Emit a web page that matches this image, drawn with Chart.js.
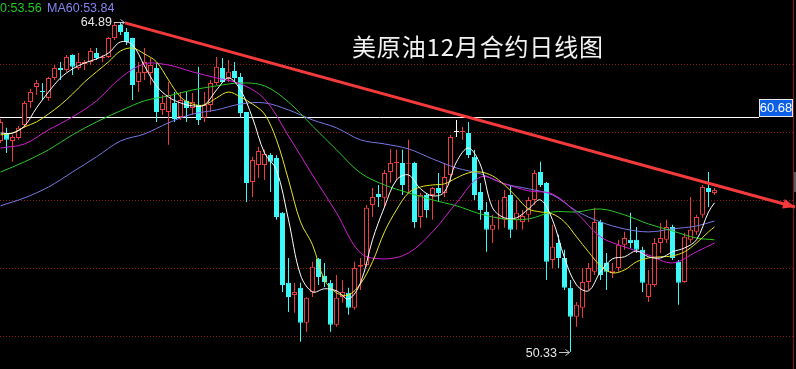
<!DOCTYPE html>
<html><head><meta charset="utf-8">
<script src="https://cdn.jsdelivr.net/npm/chart.js@4.4.0/dist/chart.umd.min.js"></script>
<style>html,body{margin:0;padding:0;background:#000;overflow:hidden}#wrap{width:796px;height:369px;position:relative}</style>
</head><body><div id="wrap"><canvas id="c" width="796" height="369"></canvas></div>
<script>
// ---- data ----
const opens=[59.64,59.99,59.64,59.77,60.35,61.36,62.02,61.85,61.54,62.42,62.86,62.77,63.43,62.86,63.04,63.13,63.52,63.30,63.35,64.18,
64.76,64.45,64.18,62.24,62.64,62.64,62.86,61.01,60.92,61.32,60.70,61.41,61.10,61.23,60.66,61.23,62.20,62.86,62.42,62.73,
62.46,60.92,57.83,58.58,58.58,59.02,58.89,56.47,53.38,52.85,53.16,51.62,52.98,54.44,53.69,53.38,51.53,52.76,52.94,52.28,
54.09,54.17,56.82,57.30,57.13,58.27,58.67,58.67,58.63,58.67,56.29,57.26,57.26,57.57,57.35,58.14,60.04,60.04,59.99,58.94,
57.39,56.51,55.72,56.25,56.16,57.26,56.16,56.07,56.38,57.04,58.27,57.79,54.39,55.14,54.48,53.16,51.88,52.28,53.42,53.87,
56.07,54.26,53.82,54.04,55.06,55.28,55.28,54.84,52.76,53.29,55.14,55.28,55.85,54.31,53.42,55.28,55.63,56.38,57.57,57.35];
const highs=[60.61,60.22,59.91,60.30,61.41,61.94,62.33,62.20,62.46,62.99,63.13,63.43,63.47,63.52,63.21,63.74,63.74,63.43,64.23,64.85,
64.89,64.63,64.20,63.13,63.74,63.30,63.08,61.67,62.24,61.80,61.80,61.80,61.76,62.91,61.80,62.33,63.35,63.30,63.21,63.13,
62.64,60.92,58.94,59.38,59.25,59.11,59.02,56.51,54.48,53.38,53.38,52.76,54.31,54.48,54.26,53.51,53.73,53.51,53.16,54.31,
54.48,56.82,57.57,57.70,58.36,59.29,59.25,59.25,59.69,58.72,57.35,57.35,57.61,58.23,58.67,59.91,60.57,60.26,60.48,59.25,
57.79,56.95,56.38,57.04,57.48,57.70,57.04,56.60,57.17,58.36,58.72,57.83,55.94,55.50,54.84,53.51,52.54,54.04,54.26,56.69,
56.16,54.70,54.26,55.28,55.63,56.47,55.85,54.97,53.95,55.36,56.02,56.16,55.94,54.39,55.59,57.17,56.38,57.70,58.27,57.57];
const lows=[59.55,59.11,58.72,59.69,60.22,61.10,61.67,61.45,61.41,62.33,62.33,62.69,62.55,62.77,62.77,62.99,63.21,63.13,63.30,64.10,
64.32,63.88,61.45,61.80,62.33,62.11,60.48,60.79,59.47,60.48,60.57,60.48,60.79,60.35,60.48,60.92,62.11,62.20,62.24,62.24,
60.66,56.95,57.17,58.01,57.92,57.39,56.16,52.98,52.10,52.06,50.78,51.22,52.76,53.29,53.20,51.22,51.44,52.50,51.97,52.19,
53.07,54.09,56.29,56.73,56.73,57.79,57.92,57.26,57.35,55.81,55.81,56.25,56.16,56.95,57.17,57.83,59.82,59.69,58.89,57.04,
56.16,54.75,55.14,55.72,55.81,55.36,55.72,55.72,56.07,56.82,57.61,53.51,54.04,54.04,53.07,50.33,51.44,51.84,53.07,53.73,
53.51,53.07,53.60,53.87,54.84,54.92,54.70,52.98,52.54,53.20,54.70,55.14,54.39,52.41,53.38,55.14,55.50,56.25,56.73,57.26];
const closes=[60.48,59.69,59.82,60.22,61.32,61.80,62.20,61.80,62.42,62.86,62.77,63.35,62.91,63.13,63.13,63.61,63.30,63.35,64.18,64.76,
64.45,64.01,62.11,62.69,63.13,62.99,60.92,61.32,61.67,60.61,61.45,61.10,61.36,60.57,61.23,62.20,62.91,62.24,62.69,62.42,
60.88,57.79,58.80,59.20,59.07,58.72,56.29,53.29,52.76,52.98,51.62,52.72,54.09,53.64,53.42,51.53,52.72,52.98,52.28,54.04,
54.17,56.69,57.17,57.17,58.23,58.67,58.72,57.70,58.67,56.07,57.26,56.60,57.57,57.35,58.05,59.82,60.04,60.08,59.02,57.26,
56.60,55.72,55.94,56.29,57.17,55.72,56.47,56.33,57.04,58.23,57.70,54.31,54.97,54.48,53.16,51.88,52.41,53.42,54.04,56.07,
53.73,53.87,53.91,55.06,55.36,55.14,54.84,53.38,53.34,55.14,55.36,55.85,54.48,53.38,55.41,55.72,56.29,57.61,57.39,57.48];

const maIdx2=[0,2,4,6,8,10,12,14,16,18,20,22,24,26,28,30,32,34,36,38,40,42,44,46,48,50,52,54,56,58,60,62,64,66,68,70,72,74,76,78,80,82,84,86,88,90,92,94,96,98,100,102,104,106,108,110,112,114,116,118,119];
const ma5=[59.99,59.99,60.30,61.10,61.80,62.42,62.82,63.08,63.26,63.52,64.01,63.88,62.95,62.07,61.58,61.32,61.19,61.23,61.89,62.42,61.89,60.66,59.11,58.36,56.16,53.73,52.98,53.12,53.03,52.67,53.38,55.28,56.73,57.92,58.14,57.53,57.22,57.39,58.72,59.33,58.58,56.69,56.25,56.25,56.64,57.04,56.16,54.48,53.29,53.03,53.87,54.44,54.53,54.79,54.53,54.48,54.75,54.92,55.28,56.51,56.91];
const ma10=[59.91,59.99,60.26,60.48,60.83,61.23,61.71,62.24,62.69,63.13,63.61,63.74,63.48,63.13,62.33,61.58,61.27,61.23,61.54,61.80,61.58,61.27,60.83,59.69,57.92,56.07,55.06,53.51,52.94,52.85,53.34,54.31,55.63,56.60,57.35,57.61,57.70,57.75,58.01,58.23,58.27,58.10,57.70,57.17,56.64,56.51,56.42,56.07,55.41,54.75,54.13,53.82,53.95,54.31,54.48,54.53,54.57,54.75,55.14,55.63,55.85];
const maIdx4=[0,4,8,12,16,20,24,28,32,36,40,44,48,52,56,60,64,68,72,76,80,84,88,92,96,100,104,108,112,116,119];
const ma20=[59.33,59.51,60.13,60.70,61.41,62.42,63.04,62.99,62.69,62.42,62.16,61.49,59.86,58.14,56.47,54.70,54.44,54.70,55.63,56.91,58.05,57.75,57.44,57.30,56.47,55.41,54.97,54.61,54.26,54.75,55.14];
const ma40=[58.27,58.72,59.25,59.91,60.48,60.97,61.41,61.63,61.89,62.07,62.20,62.07,61.36,60.30,59.25,58.23,57.70,57.35,57.04,56.78,56.42,56.20,56.20,56.51,56.51,56.64,56.38,55.98,55.67,55.36,55.28];
const ma60=[56.78,57.13,57.61,58.27,58.94,59.64,59.95,60.44,60.83,61.01,61.27,61.32,61.01,60.57,60.22,59.69,59.51,59.29,58.85,58.45,58.19,57.75,57.53,57.26,56.55,56.07,55.76,55.63,55.76,55.89,56.11];

const gridTicks=[51,54,57,60,63];
const refLine=60.68;
const trendX=[20.75,132.42];
const trendY=[64.85,56.73];
const highIdx=20, lowIdx=95;
const title="美原油12月合约日线图";
const legendA="0:53.56", legendB="MA60:53.84";

// ---- styles ----
const RED='#EE3C3C', CYAN='#3CF8F8', WHITE='#FFFFFF';
const colorOf=i=>closes[i]>opens[i]?RED:(closes[i]<opens[i]?CYAN:WHITE);
const idx=opens.map((_,i)=>i);

const overlay={
  id:'overlay',
  beforeDatasetsDraw(chart){
    const {ctx,scales:{y}}=chart;
    const yy=Math.round(y.getPixelForValue(refLine))+0.5;
    ctx.save();
    ctx.strokeStyle='#FFFFFF';ctx.lineWidth=1;
    ctx.beginPath();ctx.moveTo(0,yy);ctx.lineTo(759,yy);ctx.stroke();
    ctx.strokeStyle='#8A1414';
    ctx.beginPath();ctx.moveTo(793.5,0);ctx.lineTo(793.5,369);ctx.stroke();
    ctx.fillStyle='#5a5a5a';ctx.fillRect(794,172,2,20);
    ctx.restore();
  },
  afterDatasetsDraw(chart){
    const {ctx,scales:{x,y}}=chart;
    ctx.save();
    // trend arrow head
    const x0=x.getPixelForValue(trendX[0]),y0=y.getPixelForValue(trendY[0]);
    const x1=x.getPixelForValue(trendX[1]),y1=y.getPixelForValue(trendY[1]);
    const L=Math.hypot(x1-x0,y1-y0),dx=(x1-x0)/L,dy=(y1-y0)/L;
    ctx.fillStyle='#F43A3A';
    ctx.beginPath();
    ctx.moveTo(x1,y1);
    ctx.lineTo(x1-12*dx-5*dy,y1-12*dy+5*dx);
    ctx.lineTo(x1-12*dx+5*dy,y1-12*dy-5*dx);
    ctx.closePath();ctx.fill();
    // price box
    const yy=Math.round(y.getPixelForValue(refLine));
    ctx.fillStyle='#0A5FE6';ctx.fillRect(759,yy-18,34,18);
    ctx.strokeStyle='#E8E8E8';ctx.lineWidth=1;ctx.strokeRect(759.5,yy-17.5,33,17);
    ctx.fillStyle='#FFFFFF';ctx.font='13px "Liberation Sans", Arial, sans-serif';
    ctx.textAlign='center';ctx.textBaseline='middle';
    ctx.fillText(refLine.toFixed(2),776,yy-8.5);
    // high / low markers
    ctx.font='12.5px "Liberation Sans", Arial, sans-serif';
    ctx.textBaseline='middle';ctx.textAlign='right';
    ctx.fillStyle='#E6E6E6';ctx.strokeStyle='#C8C8C8';
    const hx=x.getPixelForValue(highIdx)+4, hy=Math.round(y.getPixelForValue(highs[highIdx]))+0.5;
    ctx.fillText(highs[highIdx].toFixed(2),112,hy);
    ctx.beginPath();ctx.moveTo(114,hy);ctx.lineTo(hx,hy);ctx.moveTo(hx-4,hy-3);ctx.lineTo(hx,hy);ctx.lineTo(hx-4,hy+3);ctx.stroke();
    const lx=x.getPixelForValue(lowIdx)-1, ly=Math.round(y.getPixelForValue(lows[lowIdx]))+0.5;
    ctx.fillText(lows[lowIdx].toFixed(2),557,ly+1);
    ctx.beginPath();ctx.moveTo(559,ly);ctx.lineTo(lx,ly);ctx.moveTo(lx-4,ly-3);ctx.lineTo(lx,ly);ctx.lineTo(lx-4,ly+3);ctx.stroke();
    // legend
    ctx.textAlign='left';ctx.textBaseline='alphabetic';
    ctx.font='12.5px "Liberation Sans", Arial, sans-serif';
    ctx.fillStyle='#1FCC1F';ctx.fillText(legendA,0,12);
    ctx.fillStyle='#8484F0';ctx.fillText(legendB,47,12);
    // title
    ctx.font='24px "Noto Sans CJK SC", sans-serif';
    ctx.fillStyle='#F2F2F2';ctx.textBaseline='middle';
    const chars=Array.from(title);
    const ws=chars.map(c=>ctx.measureText(c).width);
    const tot=ws.reduce((a,b)=>a+b,0);
    const gap=(251-tot)/(chars.length-1);
    let tx=352;
    chars.forEach((c,k)=>{ctx.fillText(c,tx,47);tx+=ws[k]+gap;});
    ctx.restore();
  }
};

new Chart(document.getElementById('c'),{
  type:'bar',
  data:{datasets:[
    {type:'line',data:[{x:trendX[0],y:trendY[0]},{x:trendX[1],y:trendY[1]}],borderColor:'#F43A3A',borderWidth:3,pointRadius:0,order:-2,clip:false},
    {type:'line',data:maIdx2.map((v,k)=>({x:v,y:ma5[k]})),borderColor:'#FFFFFF',borderWidth:1,pointRadius:0,tension:0.35,order:-1},
    {type:'line',data:maIdx2.map((v,k)=>({x:v,y:ma10[k]})),borderColor:'#E6E61E',borderWidth:1,pointRadius:0,tension:0.35,order:-1},
    {type:'line',data:maIdx4.map((v,k)=>({x:v,y:ma20[k]})),borderColor:'#D21ED2',borderWidth:1,pointRadius:0,tension:0.35,order:-1},
    {type:'line',data:maIdx4.map((v,k)=>({x:v,y:ma40[k]})),borderColor:'#28C828',borderWidth:1,pointRadius:0,tension:0.35,order:-1},
    {type:'line',data:maIdx4.map((v,k)=>({x:v,y:ma60[k]})),borderColor:'#7878E6',borderWidth:1,pointRadius:0,tension:0.35,order:-1},
    {type:'bar',data:idx.map(i=>({x:i,y:[opens[i],closes[i]]})),backgroundColor:idx.map(i=>closes[i]>opens[i]?'#000000':colorOf(i)),
      borderColor:idx.map(colorOf),borderWidth:1,borderSkipped:false,barThickness:5,grouped:false,minBarLength:1,inflateAmount:0,order:2},
    {type:'bar',data:idx.map(i=>({x:i,y:[lows[i],highs[i]]})),backgroundColor:idx.map(colorOf),borderWidth:0,barThickness:1,grouped:false,inflateAmount:0,order:3}
  ]},
  options:{
    responsive:false,animation:false,devicePixelRatio:1,
    layout:{padding:{left:0,right:3,top:0,bottom:0}},
    plugins:{legend:{display:false},tooltip:{enabled:false}},
    scales:{
      x:{type:'linear',min:-0.08333,max:132.08333,offset:false,display:false},
      y:{type:'linear',min:49.58,max:65.86,position:'left',
        afterFit(s){s.width=0;},
        afterBuildTicks(s){s.ticks=gridTicks.map(v=>({value:v}));},
        ticks:{display:false},
        grid:{color:'#8C1C1C',lineWidth:1,drawTicks:false},
        border:{display:false,dash:[1,2]}}
    }
  },
  plugins:[overlay]
});
</script></body></html>
